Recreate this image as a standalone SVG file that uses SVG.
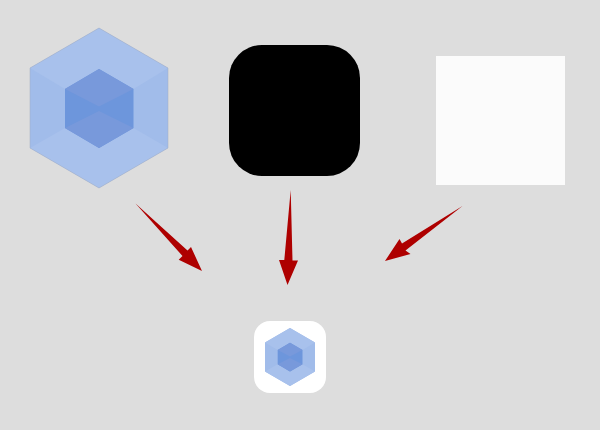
<svg xmlns="http://www.w3.org/2000/svg" width="600" height="430" viewBox="0 0 600 430">
<style>
.outer-side{fill:#a1bcea}
.outer-face{fill:#a8c1ec}
.inner-side{fill:#6d96dc}
.inner-face{fill:#7899db}
.edge{fill:none;stroke:#a3adc0;stroke-width:.5}
.arrow{fill:#ae0000}
</style>
<defs>
<g id="cube">
<polygon class="outer-side" points="99,28 168,68 168,148 99,188 30,148 30,68"/>
<polygon class="outer-face" points="99,28 168,68 133.5,89 99,69 65,89 30,68"/>
<polygon class="outer-face" points="30,148 65,128 99,148 133.5,128 168,148 99,188"/>
<polygon class="inner-side" points="99,69 133.5,89 133.5,128 99,148 65,128 65,89"/>
<polygon class="inner-face" points="99,69 133.5,89 99,106.500 65,89"/>
<polygon class="inner-face" points="65,128 99,111 133.500,128 99,148"/>
</g>
</defs>
<rect width="600" height="430" fill="#dddddd"/>
<g id="node-webpack">
<use href="#cube"/>
<polygon class="edge" points="99,28 168,68 168,148 99,188 30,148 30,68"/>
</g>
<g id="node-black">
<rect x="229" y="45" width="131" height="131" rx="33" fill="#000000"/>
</g>
<g id="node-white">
<rect x="436" y="56" width="129" height="129" fill="#fbfbfb"/>
</g>
<g id="node-result">
<rect x="254" y="321" width="72" height="72" rx="16" fill="#ffffff"/>
<use href="#cube" transform="translate(290 357) scale(.3623) translate(-99 -108)"/>
</g>
<g id="connectors">
<polygon class="arrow" points="135.500,203.500 187.500,250.500 191,247 202,271 178.700,259.700 182.500,256"/>
<polygon class="arrow" points="290.700,190 292.500,260.500 298,260.500 287.500,285 279,260 284.300,260"/>
<polygon class="arrow" points="462.500,206 405.500,250.500 410.500,254 385,261 399.500,239 402,243.500"/>
</g>
</svg>
